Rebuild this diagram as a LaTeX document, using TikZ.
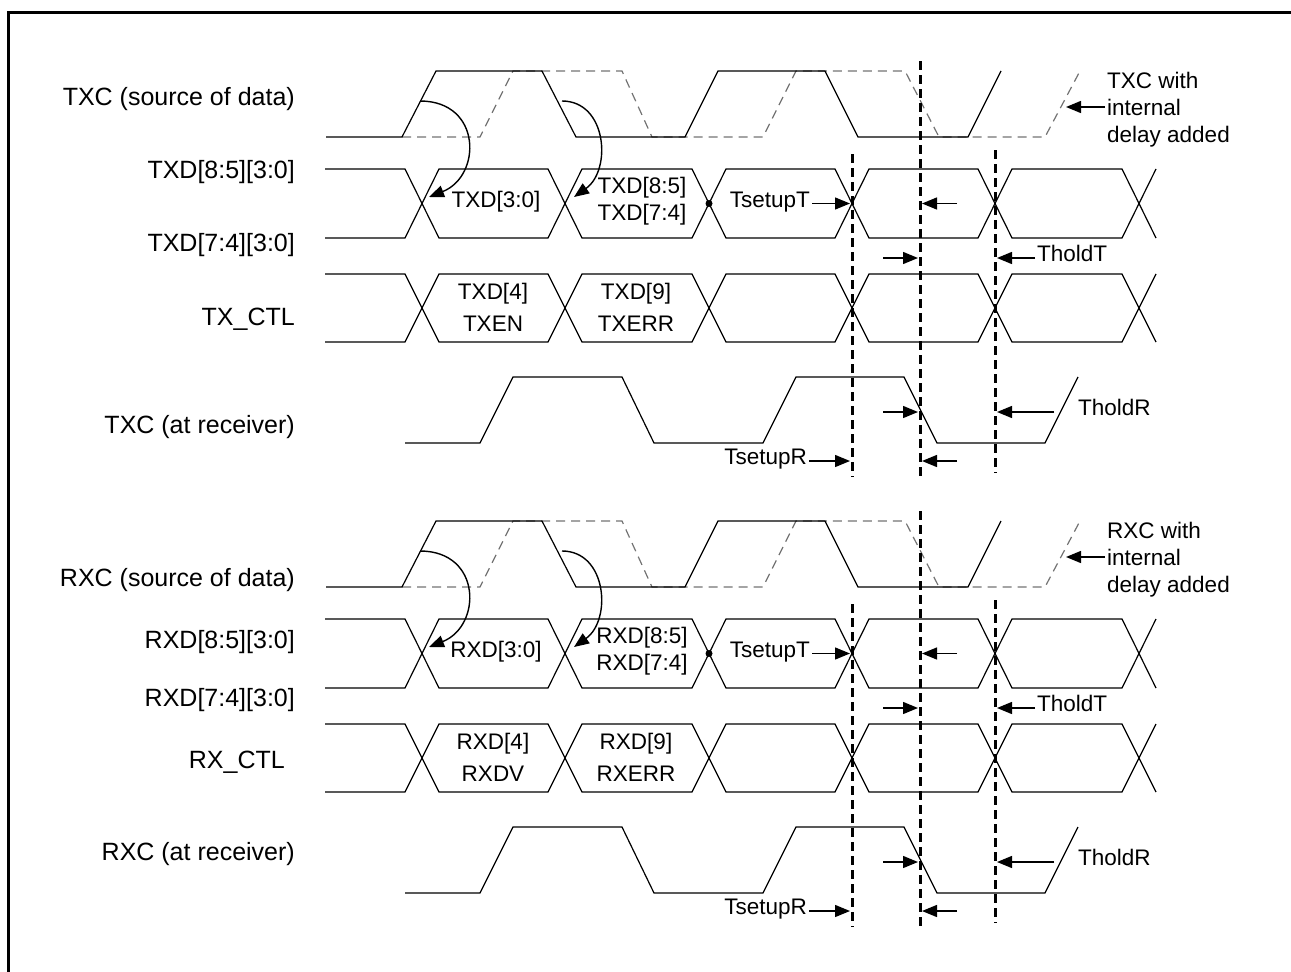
\documentclass[tikz,border=0pt]{standalone}
\usepackage{fontspec}
\setmainfont{Liberation Sans}
\usepackage{tikz}
\usetikzlibrary{arrows.meta}

\begin{document}
\begin{tikzpicture}[
    x=1pt, y=-1pt,
    wave/.style={line width=1.2pt, black},
    clkdly/.style={line width=1.2pt, black!55, dash pattern=on 9pt off 6pt},
    sampline/.style={line width=3pt, dash pattern=on 9pt off 5pt},
    arrow/.style={line width=1.4pt, -{Triangle[length=15pt,width=12pt]}},
    namelbl/.style={inner sep=0pt, font=\fontsize{25}{27}\selectfont,
      text height=0.72em, text depth=0pt},
    lbl/.style={inner sep=0pt, font=\fontsize{22.5}{26.7}\selectfont},
    caplbl/.style={lbl, text height=0.72em, text depth=0pt},
    ctllbl/.style={inner sep=0pt, align=center, font=\fontsize{22.5}{31.5}\selectfont}
]
\useasboundingbox (0,0) rectangle (1291,972);
% frame
\draw[line width=3pt] (8,972) -- (8,12) -- (1291,12);

\foreach \oy/\p/\en/\ya/\yb/\yc/\yd/\ye/\xr in {0/T/TXEN/101.7/175/248.3/321.7/430/295,
    450/R/RXDV/133.3/195/253.3/315/406.7/285} {
\begin{scope}[shift={(0,\oy)}]
% signal names
\node[namelbl, anchor=east] (src\p) at (295,\ya) {\p XC (source of data)};
\node[namelbl, anchor=east] (dhi\p) at (295,\yb) {\p XD[8:5][3:0]};
\node[namelbl, anchor=east] (dlo\p) at (295,\yc) {\p XD[7:4][3:0]};
\node[namelbl, anchor=east] (ctl\p) at (\xr,\yd) {\p X\_CTL};
\node[namelbl, anchor=east] (rcv\p) at (295,\ye) {\p XC (at receiver)};

% clock at source, with and without internal delay
\draw[clkdly] (402,137) -- (480,137) -- (513,71) -- (622,71) -- (652,137) -- (763,137)
  -- (796,71) -- (905,71) -- (939,137) -- (1045,137) -- (1080,71);
\draw[wave] (326,137) -- (402,137) -- (436,71) -- (542,71) -- (576,137) -- (685,137)
  -- (718,71) -- (825,71) -- (858,137) -- (968,137) -- (1001,71);

% data and control busses
\foreach \yt/\yb in {169/238, 274/342} {
  \draw[wave] (325,\yt) -- (405,\yt) -- (422,\yt/2+\yb/2) -- (405,\yb) -- (325,\yb);
  \foreach \a/\b in {422/565, 565/709, 709/852, 852/995, 995/1139}
    \draw[wave] (\a,\yt/2+\yb/2) -- (\a+17,\yt) -- (\b-17,\yt) -- (\b,\yt/2+\yb/2)
      -- (\b-17,\yb) -- (\a+17,\yb) -- cycle;
  \draw[wave] (1156,\yt) -- (1139,\yt/2+\yb/2) -- (1156,\yb);
}
\fill (709,203.5) circle[radius=3.5pt];

% clock at receiver
\draw[wave] (405,443) -- (480,443) -- (513,377) -- (622,377) -- (654,443) -- (763,443)
  -- (796,377) -- (904,377) -- (937,443) -- (1045,443) -- (1078,377);

% sampling instants
\draw[sampline] (852,154) -- (852,477);
\draw[sampline] (920,61) -- (920,480);
\draw[sampline] (995,150) -- (995,473);

% bus contents
\node[caplbl] (d30\p) at (496,203.5) {\p XD[3:0]};
\node[lbl, align=center] (d85\p) at (642,201) {\p XD[8:5]\\\p XD[7:4]};
\node[ctllbl] (c4\p) at (493,307.5) {\p XD[4]\\\en};
\node[ctllbl] (c9\p) at (636,307.5) {\p XD[9]\\\p XERR};

% launch edges
\coordinate (lr\p) at (420,101);
\coordinate (dr\p) at (429,197);
\coordinate (lf\p) at (562,101);
\coordinate (df\p) at (574,197);
\draw[arrow] (lr\p) .. controls (482,101) and (482,176) .. (dr\p);
\draw[arrow] (lf\p) .. controls (607,101) and (612,170) .. (df\p);

% transmit side setup and hold
\node[caplbl, anchor=east] (tsT\p) at (810,203.5) {TsetupT};
\coordinate (suT\p) at (850,203.5);
\draw[arrow, shorten <=2pt] (tsT\p.east) -- (suT\p);
\coordinate (qa\p) at (957,203.5);
\coordinate (qb\p) at (922,203.5);
\draw[arrow] (qa\p) -- (qb\p);
\coordinate (qc\p) at (883,258);
\coordinate (qd\p) at (918,258);
\draw[arrow] (qc\p) -- (qd\p);
\node[caplbl, anchor=west] (thT\p) at (1037,258) {TholdT};
\coordinate (hoT\p) at (997,258);
\draw[arrow, shorten <=2pt] (thT\p.west) -- (hoT\p);

% receive side setup and hold
\coordinate (qe\p) at (883,412);
\coordinate (qf\p) at (918,412);
\draw[arrow] (qe\p) -- (qf\p);
\node[caplbl, anchor=west] (thR\p) at (1078,412) {TholdR};
\coordinate (qg\p) at (1054,412);
\coordinate (hoR\p) at (997,412);
\draw[arrow] (qg\p) -- (hoR\p);
\node[caplbl, anchor=east] (tsR\p) at (807,461) {TsetupR};
\coordinate (suR\p) at (850,461);
\draw[arrow, shorten <=2pt] (tsR\p.east) -- (suR\p);
\coordinate (qh\p) at (957,461);
\coordinate (qi\p) at (922,461);
\draw[arrow] (qh\p) -- (qi\p);

% internal delay note
\node[lbl, align=left, anchor=west] (dly\p) at (1107,109.5) {\p XC with\\internal\\delay added};
\coordinate (qj\p) at (1105,107);
\coordinate (qk\p) at (1066,107);
\draw[arrow] (qj\p) -- (qk\p);
\end{scope}
}
\end{tikzpicture}
\end{document}
